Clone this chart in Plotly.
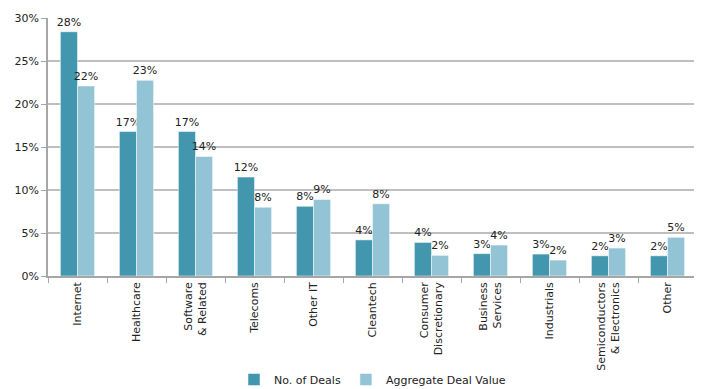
import plotly.graph_objects as go

categories = ["Internet", "Healthcare", "Software<br>& Related", "Telecoms", "Other IT",
              "Cleantech", "Consumer<br>Discretionary", "Business<br>Services", "Industrials",
              "Semiconductors<br>& Electronics", "Other"]
deals = [28.4, 16.8, 16.8, 11.5, 8.1, 4.2, 3.9, 2.6, 2.55, 2.35, 2.35]
deal_labels = ["28%", "17%", "17%", "12%", "8%", "4%", "4%", "3%", "3%", "2%", "2%"]
value = [22.1, 22.75, 13.9, 8.0, 8.9, 8.4, 2.4, 3.6, 1.85, 3.25, 4.5]
value_labels = ["22%", "23%", "14%", "8%", "9%", "8%", "2%", "4%", "2%", "3%", "5%"]
y_ticks = [0, 5, 10, 15, 20, 25, 30]
y_tick_labels = ["0%", "5%", "10%", "15%", "20%", "25%", "30%"]

font_family = "'DejaVu Sans', sans-serif"

fig = go.Figure()
fig.add_trace(go.Bar(x=categories, y=deals, name="No. of Deals", marker_color="#4297AF",
                     marker_line=dict(color="#FFFFFF", width=0.5),
                     text=deal_labels, textposition="outside", cliponaxis=False,
                     constraintext="none",
                     textfont=dict(size=11, color="#222222")))
fig.add_trace(go.Bar(x=categories, y=value, name="Aggregate Deal Value", marker_color="#93C4D6",
                     marker_line=dict(color="#FFFFFF", width=0.5),
                     text=value_labels, textposition="outside", cliponaxis=False,
                     constraintext="none",
                     textfont=dict(size=11, color="#222222")))

# page body has an 8px default margin, so the figure is sized to fit inside the window
fig.update_layout(
    width=694, height=381,
    margin=dict(l=40, r=5, t=10, b=113, autoexpand=False),
    paper_bgcolor="white", plot_bgcolor="white",
    barmode="group", bargap=0.42, bargroupgap=0,
    font=dict(family=font_family, size=11, color="#222222"),
    legend=dict(orientation="h", x=0.5, xanchor="center", y=-0.345, yanchor="top",
                font=dict(size=11), itemwidth=30, tracegroupgap=0),
    showlegend=True,
)
fig.update_xaxes(tickangle=-90, showline=True, linecolor="#A6A6A6", linewidth=1.5,
                 ticks="outside", tickson="boundaries", ticklen=5, tickcolor="#A6A6A6",
                 tickfont=dict(size=11, color="#222222"), showgrid=False, automargin=False)
fig.update_yaxes(range=[0, 30], tickvals=y_ticks, ticktext=y_tick_labels, showline=True,
                 linecolor="#A6A6A6", linewidth=1.5, ticks="outside", ticklen=5,
                 tickcolor="#A6A6A6", showgrid=True, gridcolor="#BFBFBF", gridwidth=1.5,
                 zeroline=False, tickfont=dict(size=11, color="#222222"), automargin=False)

fig.write_html("out.html")
